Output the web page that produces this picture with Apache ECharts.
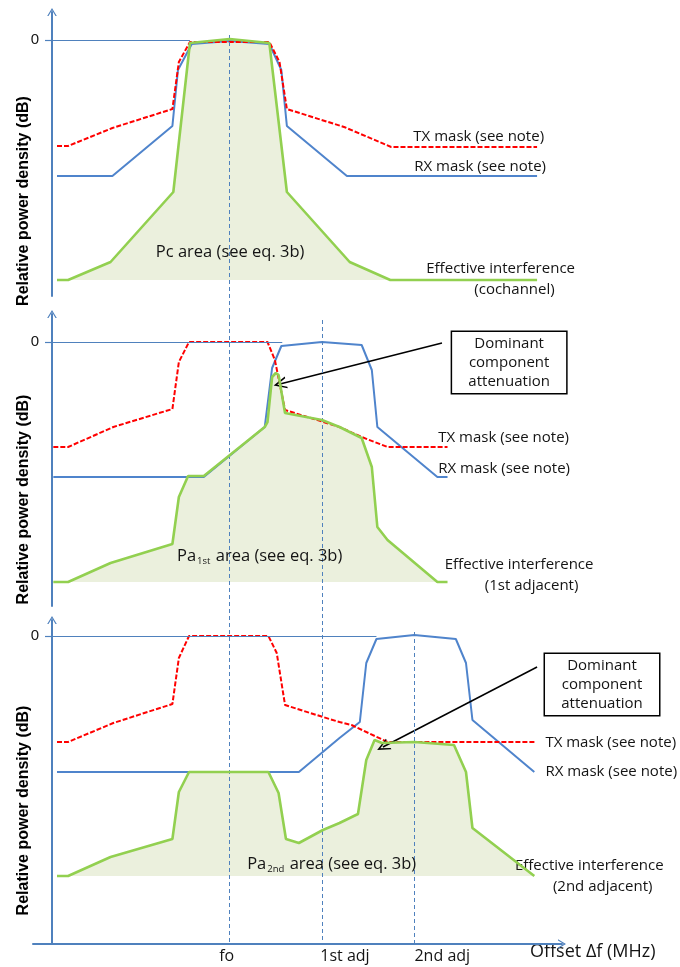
<!DOCTYPE html>
<html>
<head>
<meta charset="utf-8">
<script src="https://cdn.jsdelivr.net/npm/echarts@6/dist/echarts.min.js"></script>
<style>
  html, body { margin: 0; padding: 0; background: #fff; }
  #chart { width: 680px; height: 967px; }
</style>
</head>
<body>
<div id="chart"></div>
<script>
// Frequency offset axis: 100 units per channel spacing, fo at 0
const channelOffsets = [0, 100, 200];
const channelLabels = ['fo', '1st adj', '2nd adj'];

// Cochannel case: [offset, relative power density dB]
const txMaskCo = [[-187, -26.5], [-175, -26.5], [-127, -22], [-62, -17.25], [-55, -5.5], [-43, -0.5],
  [43, -0.5], [54, -5.5], [62, -17.25], [124, -21.75], [175, -26.75], [333, -26.75]];
const rxMaskCo = [[-187, -34], [-127, -34], [-62, -21.5], [-56, -7.5], [-41, -1], [0, -0.25],
  [43, -1], [56, -7.5], [62, -21.5], [127, -34], [333, -34]];
const effCo = [[-187, -60], [-175, -60], [-129, -55.5], [-61, -38], [-43, -0.75], [0, 0.25],
  [43, -0.75], [62, -38], [130, -55.5], [174, -60], [333, -60]];

// First adjacent channel case
const txMaskAdj1 = [[-191, -26.25], [-175, -26.25], [-126, -21.25], [-62, -16.75], [-55, -5], [-44, 0],
  [41, 0], [49, -4.5], [60, -17], [119, -21.25], [143, -23.75], [171, -26.25], [236, -26.25]];
const rxMaskAdj1 = [[-191, -33.75], [-28, -33.75], [38, -21.25], [46, -6.5], [56, -1], [100, 0],
  [143, -0.75], [154, -7], [160, -21.25], [225, -33.75], [236, -33.75]];
const effAdj1 = [[-191, -60], [-175, -60], [-129, -55.25], [-62, -50.5], [-55, -38.75], [-45, -33.5],
  [-28, -33.5], [38, -21.25], [41, -20], [46, -8.75], [50, -7.75], [53, -8.25], [60, -17.75],
  [100, -19.5], [119, -21.25], [143, -24], [154, -31.25], [160, -46.25], [171, -49.5], [225, -60], [236, -60]];

// Second adjacent channel case
const txMaskAdj2 = [[-187, -26.5], [-175, -26.5], [-126, -21.75], [-62, -17], [-55, -5.5], [-44, 0],
  [42, 0], [51, -4.25], [60, -17.25], [101, -20.25], [119, -21.5], [132, -22.25], [171, -26.5], [332, -26.5]];
const rxMaskAdj2 = [[-187, -34], [75, -34], [119, -25.5], [141, -21.5], [148, -6.75], [159, -0.75],
  [200, 0.25], [245, -0.75], [256, -6.75], [263, -21], [330, -34]];
const effAdj2 = [[-187, -60], [-175, -60], [-129, -55.25], [-62, -50.75], [-55, -39], [-44, -34],
  [42, -34], [53, -39.25], [61, -50.75], [75, -51.75], [101, -48.5], [119, -46.75], [139, -44.5],
  [148, -31], [157, -26], [165, -26.75], [200, -26.5], [243, -27.25], [256, -34], [263, -48], [330, -60]];

// Floor of the effective interference area (dB)
const floorDb = -60;

// Channel guides run down through all panels. They are drawn on an overlay
// whose scale continues the top panel's dB scale downward: [offset, top, bottom]
const channelGuides = [[0, 1.25, -226], [100, -70, -226], [200, -148, -226]];

// End of the 0 dB reference line per panel
const zeroLineEnds = [-43, 57, 159];

// Text notes per panel: [offset, dB, text]
const coNotes = [[199, -24.25, 'TX mask (see note)'], [200, -31.75, 'RX mask (see note)']];
const adj1Notes = [[226, -24, 'TX mask (see note)'], [226, -31.75, 'RX mask (see note)']];
const adj2Notes = [[342, -26.75, 'TX mask (see note)'], [342, -34, 'RX mask (see note)']];

// Effective interference captions: [offset, dB, case name, second-line indent px]
const effCaptions = [[213, -59.9, '(cochannel)', 48], [233, -58.4, '(1st adjacent)', 40], [309, -60.1, '(2nd adjacent)', 38]];

// Area captions: [offset, dB, subscript]
const areaCaptions = [[-80, -53, ''], [-57, -53.5, '1st'], [19, -57, '2nd']];

// Dominant component attenuation call-outs (panels 2 and 3): box left/centre, arrow from/to
const calloutBoxes = [[241, -5.1], [341.6, -12.1]];
const calloutArrows = [[[230, -0.25], [54.5, -10.5]], [[333, -7.75], [166, -27.75]]];

const X_MIN = -213, X_MAX = 360, Y_AXIS_AT = -192.4;
const AXIS_BLUE = '#4f81bd';
const RX_BLUE = '#4f84cc';
const TX_RED = '#ff0000';
const EFF_GREEN = '#92d050';
const AREA_FILL = '#ebf0dd';
const TEXT = '#141414';
const SANS = '"Open Sans", "Liberation Sans", sans-serif';
const chevron = 'path://M6,0 L12,10 L10.4,10 L6,2.8 L1.6,10 L0,10 Z';
// horizontal nudge of the offset labels relative to their channel (px, via padding)
const channelLabelPad = [[0, 6, 0, 0], [0, 0, 0, 46], [0, 0, 0, 56]];

const panels = [
  { tx: txMaskCo, rx: rxMaskCo, eff: effCo, notes: coNotes,
    grid: { top: 12, height: 284 }, yMin: -64, yMax: 7, titleShift: 47 },
  { tx: txMaskAdj1, rx: rxMaskAdj1, eff: effAdj1, notes: adj1Notes,
    grid: { top: 314, height: 292 }, yMin: -66, yMax: 7, titleShift: 39.5 },
  { tx: txMaskAdj2, rx: rxMaskAdj2, eff: effAdj2, notes: adj2Notes,
    grid: { top: 620, height: 324 }, yMin: -77, yMax: 4, titleShift: 28.5 }
];

const grids = [], xAxes = [], yAxes = [], series = [];

const labelRich = {};
channelLabels.forEach((_, k) => {
  labelRich['c' + k] = { fontSize: 16, color: TEXT, fontFamily: SANS, padding: channelLabelPad[k] };
});

panels.forEach((p, i) => {
  const isLast = i === panels.length - 1;
  grids.push({ left: 33, width: 529, top: p.grid.top, height: p.grid.height, containLabel: false, outerBoundsMode: 'none' });

  xAxes.push({
    type: 'value', gridIndex: i, min: X_MIN, max: X_MAX, show: isLast,
    axisLine: { onZero: false, lineStyle: { color: AXIS_BLUE, width: 2 },
      symbol: ['none', chevron], symbolSize: [11, 8] },
    axisTick: { show: false },
    splitLine: { show: false },
    axisLabel: {
      customValues: channelOffsets,
      formatter: v => { const k = channelOffsets.indexOf(v); return k >= 0 ? '{c' + k + '|' + channelLabels[k] + '}' : ''; },
      rich: labelRich, margin: 4
    },
    name: isLast ? 'Offset \u0394f (MHz)' : '',
    nameLocation: 'end', nameGap: -32, nameMoveOverlap: false,
    nameTextStyle: { fontSize: 18, color: TEXT, fontFamily: SANS, align: 'left', verticalAlign: 'top', padding: [-1, 0, 0, 0] }
  });

  yAxes.push({
    type: 'value', gridIndex: i, min: p.yMin, max: p.yMax, position: 'left', offset: -19,
    axisLine: { show: true, onZero: false, lineStyle: { color: AXIS_BLUE, width: 2 },
      symbol: ['none', chevron], symbolSize: [11, 8] },
    axisTick: { show: true, customValues: [0], length: 7, lineStyle: { color: AXIS_BLUE, width: 1.2 } },
    axisLabel: { customValues: [0], fontSize: 15, color: TEXT, fontFamily: '"Liberation Sans", sans-serif', margin: 13 },
    splitLine: { show: false },
    name: 'Relative power density (dB)', nameLocation: 'middle', nameRotate: 90, nameGap: 20,
    nameMoveOverlap: false,
    nameTextStyle: { fontFamily: '"Liberation Sans", Arial, sans-serif', fontWeight: 'bold', fontSize: 16,
      color: '#000', padding: [0, p.titleShift * 2, 0, 0] }
  });

  const common = { type: 'line', xAxisIndex: i, yAxisIndex: i, symbol: 'none', silent: true, animation: false };

  // shaded effective interference area
  series.push(Object.assign({}, common, {
    data: p.eff, z: 1,
    lineStyle: { width: 0, opacity: 0 },
    areaStyle: { color: AREA_FILL, opacity: 1, origin: floorDb }
  }));

  // 0 dB reference line (and, on the bottom panel, the stub of the y axis below the x axis)
  const refLines = [[
    { coord: [Y_AXIS_AT, 0], lineStyle: { color: AXIS_BLUE, width: 1.2, type: 'solid' } },
    { coord: [zeroLineEnds[i], 0] }
  ]];
  if (isLast) {
    refLines.push([
      { coord: [Y_AXIS_AT, p.yMin + 0.5], lineStyle: { color: AXIS_BLUE, width: 2, type: 'solid' } },
      { coord: [Y_AXIS_AT, p.yMin - 1.75] }
    ]);
  }
  series.push(Object.assign({}, common, {
    data: [], z: 2, clip: false,
    markLine: { silent: true, symbol: 'none', label: { show: false }, animation: false, data: refLines }
  }));

  series.push(Object.assign({}, common, { data: p.rx, z: 3, lineStyle: { color: RX_BLUE, width: 2 } }));
  series.push(Object.assign({}, common, { data: p.tx, z: 4, lineStyle: { color: TX_RED, width: 2, type: [5, 2] } }));
  series.push(Object.assign({}, common, { data: p.eff, z: 5, lineStyle: { color: EFF_GREEN, width: 2.6 } }));

  // text notes
  const labelBase = { show: true, position: 'inside', color: TEXT, fontFamily: SANS, fontSize: 15,
    align: 'left', verticalAlign: 'middle' };
  const points = p.notes.map(n => ({ coord: [n[0], n[1]], label: Object.assign({}, labelBase, { formatter: n[2] }) }));

  const ec = effCaptions[i];
  points.push({ coord: [ec[0], ec[1]], label: Object.assign({}, labelBase, {
    formatter: '{line1|Effective interference}\n{line2|' + ec[2] + '}',
    rich: { line1: { fontSize: 15, lineHeight: 21, fontFamily: SANS, color: TEXT },
            line2: { fontSize: 15, lineHeight: 21, fontFamily: SANS, color: TEXT, padding: [0, 0, 0, ec[3]] } }
  }) });

  const ac = areaCaptions[i];
  const areaText = ac[2]
    ? '{main|Pa}{sub|' + ac[2] + '}{main| area (see eq. 3b)}'
    : '{main|Pc area (see eq. 3b)}';
  points.push({ coord: [ac[0], ac[1]], label: Object.assign({}, labelBase, {
    formatter: areaText,
    rich: { main: { fontSize: 16.5, lineHeight: 20, fontFamily: SANS, color: TEXT },
            sub: { fontSize: 9.5, lineHeight: 20, fontFamily: SANS, color: TEXT, verticalAlign: 'bottom', padding: [0, 1, 0, 1] } }
  }) });

  const arrowLines = [];
  if (i > 0) {
    const box = calloutBoxes[i - 1];
    points.push({ coord: box, label: {
      show: true, position: 'inside', formatter: 'Dominant\ncomponent\nattenuation',
      align: 'center', verticalAlign: 'middle', offset: [57, 0],
      width: 100, lineHeight: 19, fontSize: 15, fontFamily: SANS, color: TEXT,
      backgroundColor: '#fff', borderColor: '#000', borderWidth: 1.5, padding: [2, 7]
    } });
    const a = calloutArrows[i - 1];
    arrowLines.push([
      { coord: a[0], symbol: 'none', lineStyle: { color: '#000', width: 1.5, type: 'solid' } },
      { coord: a[1], symbol: chevron, symbolSize: [12, 13] }
    ]);
  }

  series.push(Object.assign({}, common, {
    data: [], z: 6, clip: false,
    markPoint: { silent: true, symbol: 'circle', symbolSize: 0, animation: false, data: points },
    markLine: { silent: true, symbol: 'none', label: { show: false }, animation: false, data: arrowLines }
  }));
});

// Overlay spanning all three panels for the channel guide lines
const overlay = panels.length;
grids.push({ left: 33, width: 529, top: 12, height: 932, containLabel: false, outerBoundsMode: 'none' });
xAxes.push({ type: 'value', gridIndex: overlay, min: X_MIN, max: X_MAX, show: false });
yAxes.push({ type: 'value', gridIndex: overlay, min: -226, max: 7, show: false });
series.push({
  type: 'line', xAxisIndex: overlay, yAxisIndex: overlay, data: [], z: 2, silent: true, animation: false,
  markLine: {
    silent: true, symbol: 'none', label: { show: false }, animation: false,
    lineStyle: { color: AXIS_BLUE, width: 1, type: [4, 3] },
    data: channelGuides.map(g => [{ coord: [g[0], g[1]] }, { coord: [g[0], g[2]] }])
  }
});

const chart = echarts.init(document.getElementById('chart'), null, { renderer: 'canvas' });
chart.setOption({
  animation: false,
  backgroundColor: '#fff',
  grid: grids,
  xAxis: xAxes,
  yAxis: yAxes,
  series: series
});
</script>
</body>
</html>
